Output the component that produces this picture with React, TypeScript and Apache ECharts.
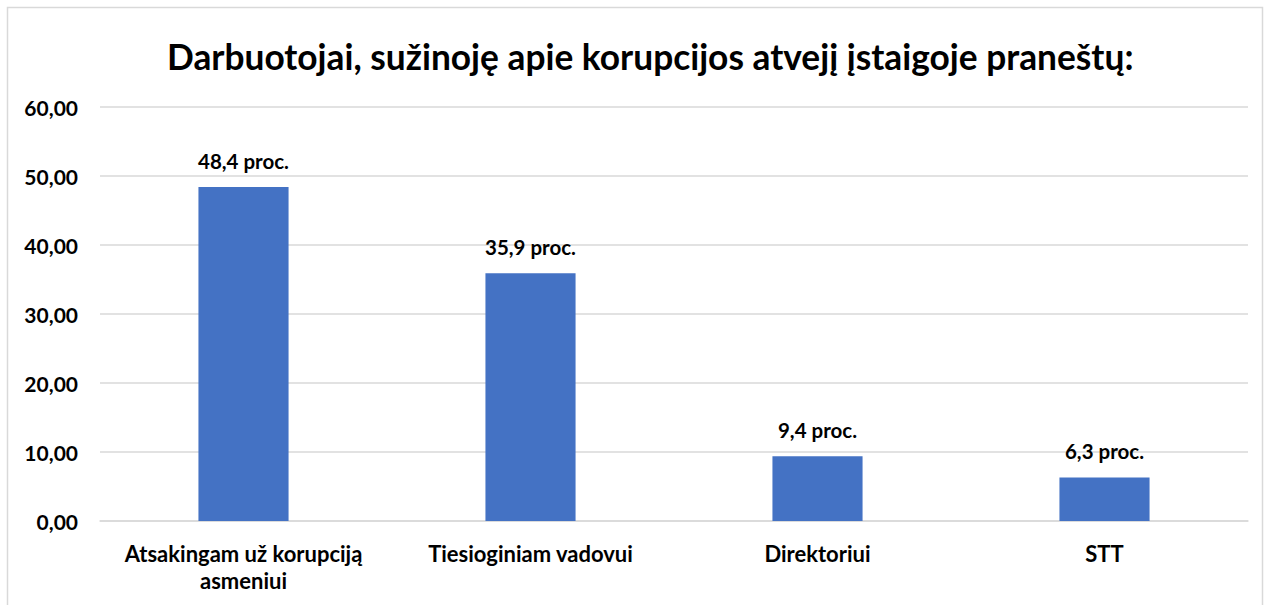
import React, { useEffect, useRef } from "react";
import * as echarts from "echarts";

const titleText = "Darbuotojai, sužinoję apie korupcijos atvejį įstaigoje praneštų:";
const categories = ["Atsakingam už korupciją\nasmeniui", "Tiesioginiam vadovui", "Direktoriui", "STT"];
const values = [48.4, 35.9, 9.4, 6.3];
const yMin = 0;
const yMax = 60;
const yInterval = 10;

const FONT = "Lato";

export default function App() {
  const ref = useRef<HTMLDivElement>(null);
  useEffect(() => {
    document.body.style.margin = "0";
    const chart = echarts.init(ref.current!, null, { renderer: "svg" });
    chart.setOption({
      animation: false,
      backgroundColor: "#ffffff",
      textStyle: { fontFamily: FONT },
      title: {
        text: titleText,
        left: 162,
        top: 34,
        textStyle: { fontFamily: FONT, fontSize: 35.3, fontWeight: "bold", color: "#000000" },
      },
      graphic: [
        {
          type: "rect",
          shape: { x: 7.5, y: 7.5, width: 1255, height: 620 },
          style: { fill: "none", stroke: "#d9d9d9", lineWidth: 1.5 },
          silent: true,
        },
      ],
      grid: { left: 100, right: 22, top: 107, bottom: 84, containLabel: false },
      xAxis: {
        type: "category",
        data: categories,
        axisLine: { show: true, lineStyle: { color: "#d9d9d9", width: 1.5 } },
        axisTick: { show: false },
        axisLabel: {
          fontFamily: FONT,
          fontSize: 22,
          fontWeight: "bold",
          color: "#000000",
          margin: 19,
          lineHeight: 27,
          interval: 0,
        },
      },
      yAxis: {
        type: "value",
        min: yMin,
        max: yMax,
        interval: yInterval,
        axisLine: { show: false },
        axisTick: { show: false },
        splitLine: { lineStyle: { color: "#d9d9d9", width: 1.5 } },
        axisLabel: {
          fontFamily: FONT,
          fontSize: 21,
          fontWeight: "bold",
          color: "#000000",
          margin: 22,
          formatter: (v: number) => v.toFixed(2).replace(".", ","),
        },
      },
      series: [
        {
          type: "bar",
          data: values,
          barWidth: "31.4%",
          itemStyle: { color: "#4472c4" },
          label: {
            show: true,
            position: "top",
            distance: 16,
            fontFamily: FONT,
            fontSize: 20.5,
            fontWeight: "bold",
            color: "#000000",
            formatter: (p: any) => p.value.toFixed(1).replace(".", ",") + " proc.",
          },
        },
      ],
    });
    return () => chart.dispose();
  }, []);
  return <div ref={ref} style={{ width: 1270, height: 605 }} />;
}
